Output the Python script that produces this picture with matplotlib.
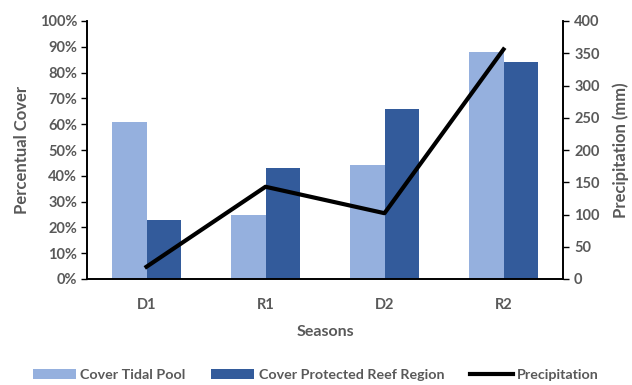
import numpy as np
import matplotlib.pyplot as plt
from matplotlib.ticker import PercentFormatter

plt.rcParams["font.family"] = ["Lato", "DejaVu Sans"]
plt.rcParams["font.weight"] = "bold"

seasons = ["D1", "R1", "D2", "R2"]
cover_tidal = [61, 25, 44, 88]
cover_reef = [23, 43, 66, 84]
precipitation = [19, 143, 102, 356]

grey = "#595959"
light = "#95B0DE"
dark = "#335B9B"

fig = plt.figure(figsize=(6.32, 3.85), dpi=100)
ax = fig.add_axes([87 / 632, 1 - 279 / 385, 476 / 632, 258 / 385])
ax2 = ax.twinx()

x = np.arange(len(seasons))
w = 0.286
b1 = ax.bar(x - w / 2, cover_tidal, w, color=light, label="Cover Tidal Pool")
b2 = ax.bar(x + w / 2, cover_reef, w, color=dark, label="Cover Protected Reef Region")
ln, = ax2.plot(x, precipitation, color="black", lw=3, label="Precipitation")

ax.set_xlim(-0.5, 3.5)
ax.set_ylim(0, 100)
ax.set_yticks(np.arange(0, 101, 10))
ax.yaxis.set_major_formatter(PercentFormatter(decimals=0))
ax2.set_ylim(0, 400)
ax2.set_yticks(np.arange(0, 401, 50))

ax.set_xticks(x)
ax.set_xticklabels(seasons)
ax.tick_params(axis="x", length=0, pad=14, labelsize=10.5, labelcolor=grey)
ax.tick_params(axis="y", length=4, width=1, labelsize=10.5, labelcolor=grey, color="black", pad=3)
ax2.tick_params(axis="y", length=4, width=1, labelsize=10.5, labelcolor=grey, color="black", pad=4)

for a in (ax, ax2):
    a.spines["top"].set_visible(False)
    for s in ("left", "right", "bottom"):
        a.spines[s].set_color("black")
        a.spines[s].set_linewidth(1.2)

ax.set_xlabel("Seasons", fontsize=11.5, color=grey, fontweight="bold", labelpad=9)
ax.set_ylabel("Percentual Cover", fontsize=12, color=grey, fontweight="bold", labelpad=7)
ax2.set_ylabel("Precipitation (mm)", fontsize=12, color=grey, fontweight="bold", labelpad=9)

fig.legend(handles=[b1, b2, ln], loc="center", ncol=3, frameon=False,
           bbox_to_anchor=(0.5, 1 - 375 / 385), fontsize=10.3, labelcolor=grey,
           handlelength=3.0, handleheight=0.7, columnspacing=1.8, handletextpad=0.3)

fig.savefig("out.png", dpi=100)
